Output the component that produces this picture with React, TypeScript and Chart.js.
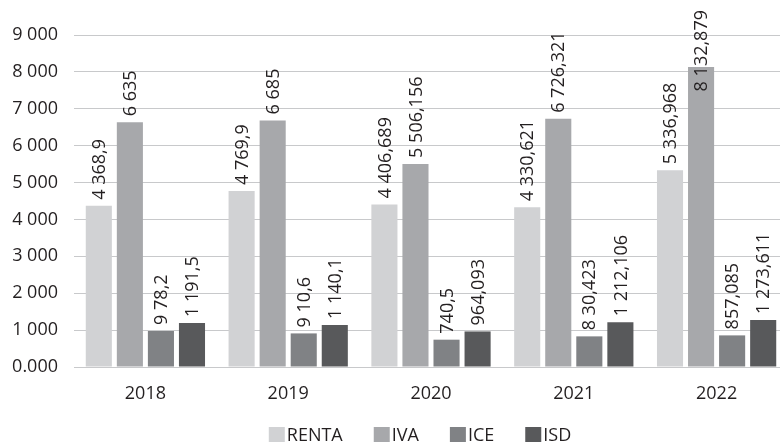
import React, { useEffect, useRef } from "react";
import { Chart, registerables } from "chart.js";

Chart.register(...registerables);

const years = ["2018", "2019", "2020", "2021", "2022"];
const seriesNames = ["RENTA", "IVA", "ICE", "ISD"];
const renta = [4368.9, 4769.9, 4406.689, 4330.621, 5336.968];
const iva = [6635, 6685, 5506.156, 6726.321, 8132.879];
const ice = [978.2, 910.6, 740.5, 830.423, 857.085];
const isd = [1191.5, 1140.1, 964.093, 1212.106, 1273.611];
const rentaLabels = ["4 368,9", "4 769,9", "4 406,689", "4 330,621", "5 336,968"];
const ivaLabels = ["6 635", "6 685", "5 506,156", "6 726,321", "8 132,879"];
const iceLabels = ["9 78,2", "9 10,6", "740,5", "8 30,423", "857,085"];
const isdLabels = ["1 191,5", "1 140,1", "964,093", "1 212,106", "1 273,611"];
const yTicks = [0, 1000, 2000, 3000, 4000, 5000, 6000, 7000, 8000, 9000];
const colors = ["#d1d2d4", "#a7a8ab", "#808285", "#58595b"];

const FONT = "'Open Sans', 'Noto Sans', sans-serif";
const TEXT = "#231f20";

function fmtTick(v: number): string {
  if (v === 0) return "0.000";
  const s = String(Math.round(v));
  return s.replace(/\B(?=(\d{3})+(?!\d))/g, " ");
}

const labelPlugin = {
  id: "barLabels",
  afterDatasetsDraw(chart: any) {
    const ctx = chart.ctx;
    const allLabels = [rentaLabels, ivaLabels, iceLabels, isdLabels];
    ctx.save();
    ctx.font = `18px ${FONT}`;
    ctx.fillStyle = TEXT;
    chart.data.datasets.forEach((ds: any, di: number) => {
      const meta = chart.getDatasetMeta(di);
      meta.data.forEach((bar: any, i: number) => {
        const txt = allLabels[di][i];
        const w = ctx.measureText(txt).width;
        let start = bar.y - 6;
        if (start - w < 10) start = 10 + w;
        ctx.save();
        ctx.translate(bar.x + 1, start);
        ctx.rotate(-Math.PI / 2);
        ctx.textAlign = "left";
        ctx.textBaseline = "middle";
        ctx.fillText(txt, 0, 0);
        ctx.restore();
      });
    });
    ctx.restore();
  },
};

// Legend drawn below the plot: 16px swatch, short gap, label, spacing between items.
const legendPlugin = {
  id: "customLegend",
  afterDraw(chart: any) {
    const ctx = chart.ctx;
    ctx.save();
    ctx.font = `18px ${FONT}`;
    const box = 16;
    const gap = 2;
    const spacing = 31;
    const items = chart.data.datasets.map((ds: any) => ({
      text: ds.label,
      color: ds.backgroundColor,
      w: ctx.measureText(ds.label).width,
    }));
    const total =
      items.reduce((a: number, it: any) => a + box + gap + it.w, 0) +
      spacing * (items.length - 1);
    const centerX = (chart.chartArea.left + chart.chartArea.right) / 2 - 11;
    const cy = chart.chartArea.bottom + 68;
    let x = centerX - total / 2;
    items.forEach((it: any) => {
      ctx.fillStyle = it.color;
      ctx.fillRect(x, cy - box / 2, box, box);
      ctx.fillStyle = TEXT;
      ctx.textAlign = "left";
      ctx.textBaseline = "middle";
      ctx.fillText(it.text, x + box + gap, cy + 1);
      x += box + gap + it.w + spacing;
    });
    ctx.restore();
  },
};

export default function App() {
  const ref = useRef<HTMLCanvasElement>(null);
  useEffect(() => {
    if (!ref.current) return;
    const datasetsValues = [renta, iva, ice, isd];
    const chart = new Chart(ref.current, {
      type: "bar",
      data: {
        labels: years,
        datasets: seriesNames.map((n, i) => ({
          label: n,
          data: datasetsValues[i],
          backgroundColor: colors[i],
          borderWidth: 0,
          categoryPercentage: 0.87,
          barPercentage: 0.84,
        })),
      },
      options: {
        animation: false,
        responsive: false,
        maintainAspectRatio: false,
        layout: { padding: { top: 35, right: 2, left: 0, bottom: 33 } },
        plugins: {
          tooltip: { enabled: false },
          legend: { display: false },
        },
        scales: {
          x: {
            grid: { display: false },
            border: { display: false },
            ticks: {
              color: TEXT,
              font: { family: FONT, size: 18 },
              padding: 8,
            },
            afterFit: (s: any) => {
              s.height = 42;
            },
          },
          y: {
            min: 0,
            max: 9000,
            afterBuildTicks: (s: any) => {
              s.ticks = yTicks.map((v) => ({ value: v }));
            },
            afterFit: (s: any) => {
              s.width = 74;
            },
            grid: { color: "#c8c9cb", lineWidth: 1, drawTicks: false },
            border: { display: false },
            ticks: {
              color: TEXT,
              font: { family: FONT, size: 18 },
              padding: 16,
              callback: (v: any) => fmtTick(Number(v)),
            },
          },
        },
      },
      plugins: [labelPlugin, legendPlugin],
    });
    return () => chart.destroy();
  }, []);
  return (
    <div
      style={{
        position: "fixed",
        left: 0,
        top: 0,
        width: 780,
        height: 442,
        overflow: "hidden",
        background: "#fff",
      }}
    >
      <canvas ref={ref} width={790} height={442} style={{ width: 790, height: 442 }} />
    </div>
  );
}
